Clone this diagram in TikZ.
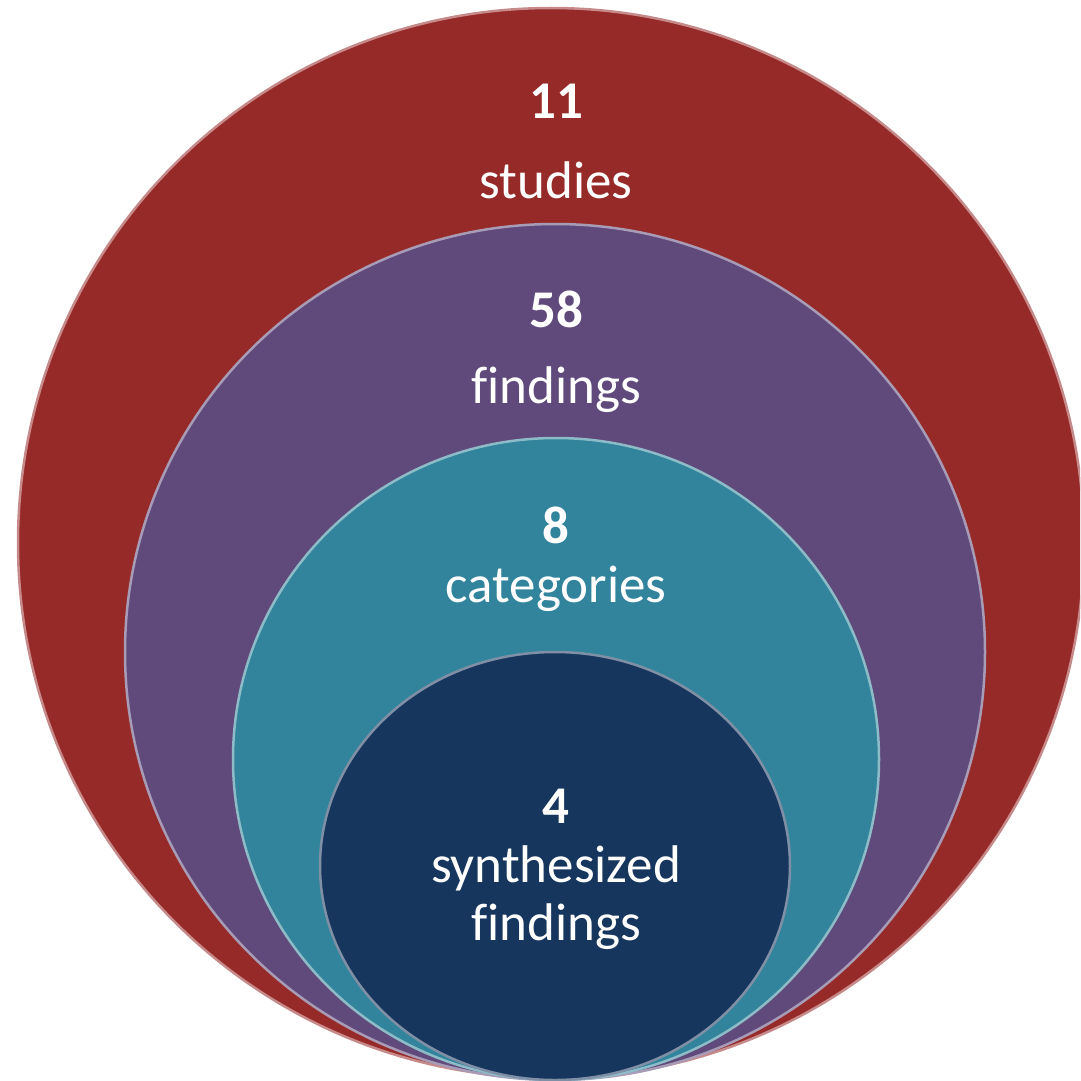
\documentclass[tikz,border=0pt]{standalone}
\usepackage{fontspec}
\setmainfont[Ligatures=NoCommon]{Carlito}
\definecolor{ringred}{HTML}{962A28}
\definecolor{ringpurple}{HTML}{604A7B}
\definecolor{ringteal}{HTML}{31849B}
\definecolor{ringnavy}{HTML}{17365D}
\begin{document}
\begin{tikzpicture}[x=1pt,y=-1pt,
  ring/.style={fill=#1, draw=#1!55!white, line width=2.5pt},
  num/.style={anchor=base, text=white, font=\fontsize{53}{60}\selectfont\bfseries, inner sep=0pt},
  lbl/.style={anchor=base, text=white, font=\fontsize{53}{60}\selectfont, inner sep=0pt, align=center}]
\useasboundingbox (0,0) rectangle (1080,1081);
\begin{scope}
\clip (0,0) rectangle (1080,1081);
\fill[ring=ringred] (551,543) ellipse (533 and 535);
\end{scope}
\fill[ring=ringpurple] (555,652) ellipse (430 and 428);
\fill[ring=ringteal] (556,759) ellipse (323 and 321);
\fill[ring=ringnavy] (555,866) ellipse (235 and 214);
\node[num] (n11) at (556,118) {11};
\node[lbl] (studies) at (556,198) {studies};
\node[num] (n58) at (556,327) {58};
\node[lbl] (findings) at (556,403) {findings};
\node[num] (n8) at (556,543) {8};
\node[lbl] (categories) at (556,602) {categories};
\node[num] (n4) at (556,823) {4};
\node[lbl] (synth) at (556,882) {synthesized};
\node[lbl] (synthfind) at (556,940) {findings};
\end{tikzpicture}
\end{document}
